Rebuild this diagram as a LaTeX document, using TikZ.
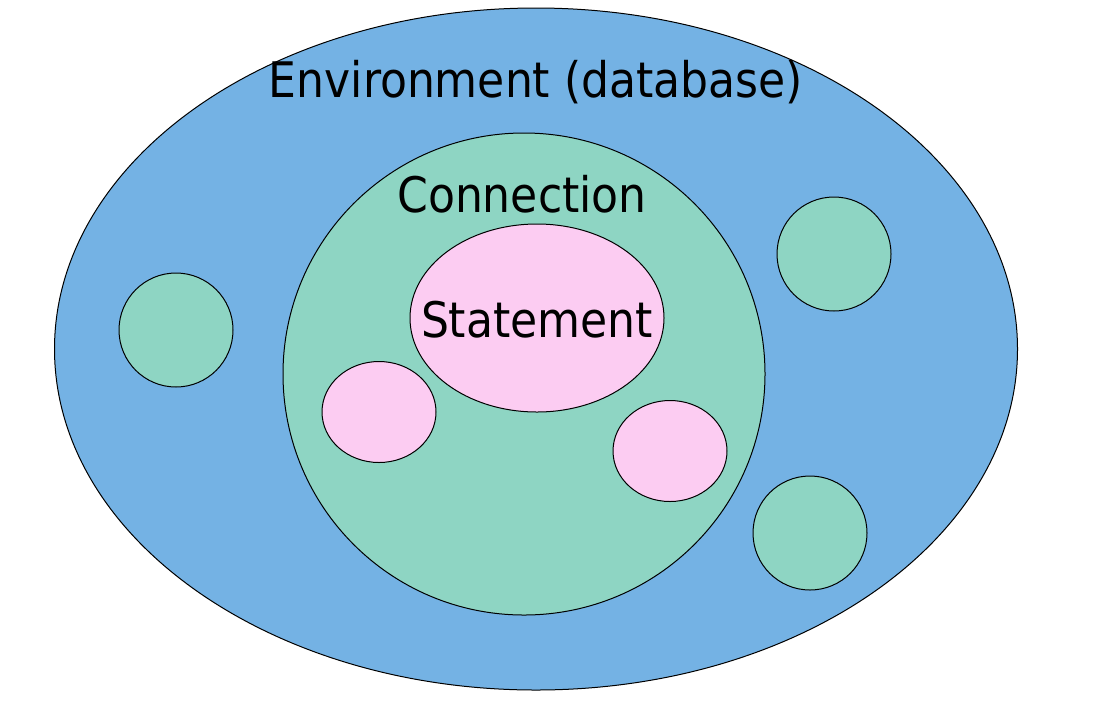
\documentclass[tikz,border=0pt]{standalone}
\usepackage{tikz}
\usepackage{fontspec}
\setmainfont{DejaVu Sans Condensed}
\usetikzlibrary{shapes,positioning}

\definecolor{envblue}{RGB}{116,178,228}
\definecolor{conngreen}{RGB}{142,213,195}
\definecolor{stmtpink}{RGB}{252,204,242}

\begin{document}
\begin{tikzpicture}[
        x=1pt, y=-1pt,
        every path/.style={line width=1pt},
        blob/.style={draw, ellipse, inner sep=0pt},
        env/.style={blob, fill=envblue, minimum width=963pt, minimum height=682pt},
        conn/.style={blob, fill=conngreen, minimum width=482pt, minimum height=482pt},
        stmt/.style={blob, fill=stmtpink, minimum width=254pt, minimum height=188pt},
        smallconn/.style={blob, fill=conngreen, minimum width=114pt, minimum height=114pt},
        smallstmt/.style={blob, fill=stmtpink, minimum width=114pt, minimum height=101pt},
        label/.style={anchor=base, inner sep=0pt, font=\fontsize{49}{58}\selectfont}
    ]

  \useasboundingbox[fill=white] (0,0) rectangle (1118,716);

  % Nodes
  \node (env) [env] at (536,349) {};
  \node (conn) [conn] at (524,374) {};
  \node (stmt) [stmt] at (537,318) {};
  \node (stmtleft) [smallstmt] at (379,412) {};
  \node (stmtright) [smallstmt] at (670,451) {};
  \node (connleft) [smallconn] at (176,330) {};
  \node (conntop) [smallconn] at (834,254) {};
  \node (connbottom) [smallconn] at (810,533) {};

  % Labels
  \node (envlabel) [label] at (536,97) {Environment (database)};
  \node (connlabel) [label] at (522,212) {Connection};
  \node (stmtlabel) [label] at (537,337) {Statement};
\end{tikzpicture}
\end{document}
